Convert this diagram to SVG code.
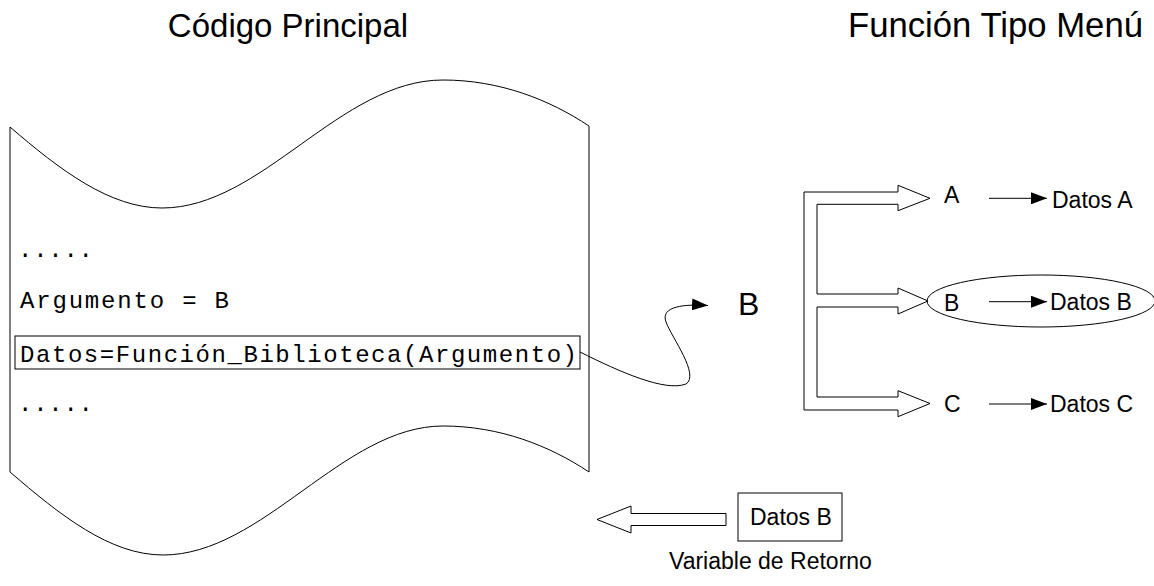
<svg xmlns="http://www.w3.org/2000/svg" width="1154" height="586" viewBox="0 0 1154 586">
  <style>
    .ln { fill: none; stroke: #000; stroke-width: 1; }
    .shape { fill: #fff; stroke: #000; stroke-width: 1; }
    .sans { font-family: "Liberation Sans", Arial, sans-serif; fill: #000; }
    .mono { font-family: "Liberation Mono", "Courier New", monospace; font-size: 24px; fill: #000; }
    .title { text-anchor: middle; }
    .lbl { font-size: 23px; }
  </style>
  <defs>
    <marker id="arrow" viewBox="0 0 16 12" refX="16" refY="6" markerWidth="16" markerHeight="12" markerUnits="userSpaceOnUse" orient="auto">
      <path d="M0,0 L16,6 L0,12 Z" fill="#000"/>
    </marker>
  </defs>

  <!-- Titles -->
  <text class="sans title" x="288" y="37" font-size="33">Código Principal</text>
  <text class="sans title" x="995.5" y="37" font-size="34.7">Función Tipo Menú</text>

  <!-- Main code document -->
  <g id="codigo-principal">
    <path class="shape" d="M10,127 C60,170 110,208 162,208 C262,208 340,80 443,80 C500,80 550,100 589,126 L589,472 C550,446 500,426 443,426 C343,426 263,555 163,555 C110,555 60,515 10,472 Z"/>
    <text class="mono" x="18" y="257" textLength="75" lengthAdjust="spacing">.....</text>
    <text class="mono" x="20" y="308" textLength="209" lengthAdjust="spacing">Argumento = B</text>
    <rect class="shape" x="15" y="336" width="565" height="33"/>
    <text class="mono" x="20" y="362" textLength="557" lengthAdjust="spacing">Datos=Función_Biblioteca(Argumento)</text>
    <text class="mono" x="18" y="411" textLength="75" lengthAdjust="spacing">.....</text>
  </g>

  <!-- Argument passed to the function -->
  <g id="argumento-b">
    <text class="sans" x="738" y="315" font-size="32">B</text>
  </g>

  <!-- Menu dispatcher: branching hollow arrows -->
  <g id="menu">
    <path class="shape" d="M804,192 L898,192 L898,185.3 L930,198.3 L898,210.7 L898,204.3 L817,204.3 L817,294 L898,294 L898,288 L928,301 L898,314 L898,307 L817,307 L817,397 L898,397 L898,390.7 L930,403.5 L898,416.7 L898,410 L804,410 Z"/>
  </g>

  <g id="opcion-a">
    <text class="sans lbl" x="944" y="203">A</text>
    <text class="sans lbl" x="1052" y="207.5">Datos A</text>
  </g>

  <g id="opcion-b">
    <ellipse class="ln" cx="1041" cy="301" rx="114" ry="26"/>
    <text class="sans lbl" x="944" y="310.5">B</text>
    <text class="sans lbl" x="1050" y="309.5">Datos B</text>
  </g>

  <g id="opcion-c">
    <text class="sans lbl" x="944" y="411.5">C</text>
    <text class="sans lbl" x="1050" y="411.5">Datos C</text>
  </g>

  <!-- Return value -->
  <g id="retorno">
    <rect class="shape" x="738" y="493" width="104" height="48"/>
    <text class="sans lbl" x="750" y="525">Datos B</text>
    <text class="sans lbl" x="669" y="569">Variable de Retorno</text>
  </g>

  <!-- Connectors -->
  <g id="connectors">
    <path class="ln" d="M580,352 C620,372 665,392 686,384 C700,375 672,338 666,322 C660,306 685,304 708,305.5" marker-end="url(#arrow)"/>
    <line class="ln" x1="989" y1="198.3" x2="1047" y2="198.3" marker-end="url(#arrow)"/>
    <line class="ln" x1="989" y1="301.7" x2="1047" y2="301.7" marker-end="url(#arrow)"/>
    <line class="ln" x1="989" y1="404" x2="1047" y2="404" marker-end="url(#arrow)"/>
    <path class="shape" d="M726,513.5 L631,513.5 L631,506 L597,519.5 L631,533 L631,525.5 L726,525.5 Z"/>
  </g>
</svg>
